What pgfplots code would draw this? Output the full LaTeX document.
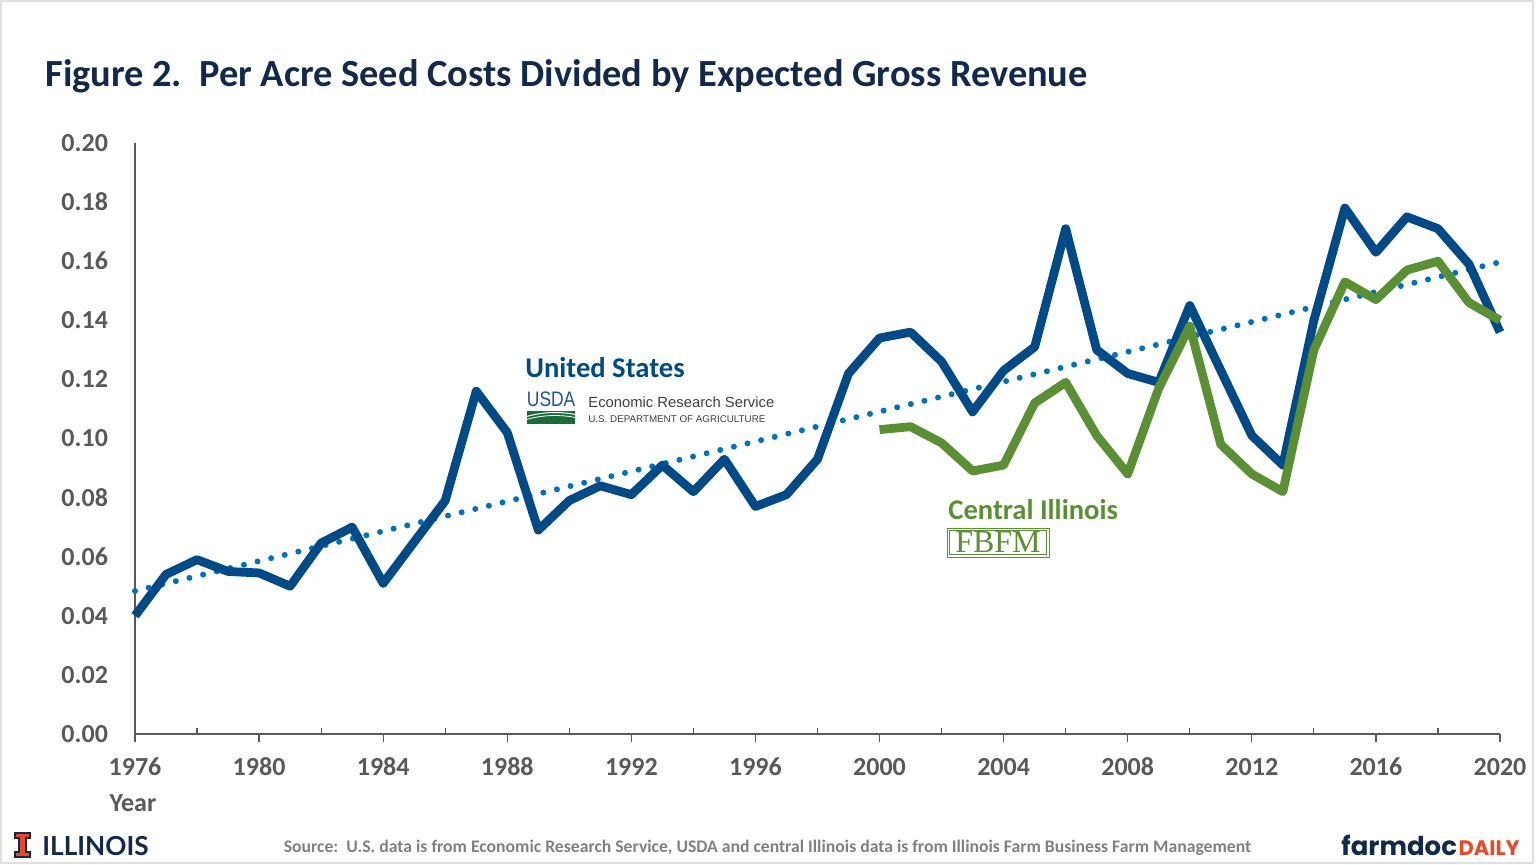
\documentclass[border=0pt]{standalone}
\usepackage{fontspec}
\setmainfont{Carlito}
\newfontfamily\arialf{Liberation Sans}
\newfontfamily\serifb{Liberation Serif}
\newfontfamily\popf{Poppins}
\newfontfamily\latof{Lato}
\usepackage{pgfplots}
\pgfplotsset{compat=1.18}
\definecolor{navy}{HTML}{13294B}
\definecolor{usblue}{HTML}{004B87}
\definecolor{ilgreen}{HTML}{5B8F33}
\definecolor{trendblue}{HTML}{0070C0}
\definecolor{tickgray}{HTML}{595959}
\definecolor{srcgray}{HTML}{808080}
\definecolor{illorange}{HTML}{E84A27}
\definecolor{usdablue}{HTML}{205493}
\definecolor{usdagreen}{HTML}{1B6B3A}
\begin{document}
\begin{tikzpicture}[x=1pt,y=1pt]
\path (0,0) rectangle (768,432);
\draw[gray!25,line width=0.8pt] (0.6,0.6) rectangle (766.5,431.4);
% title
\node[anchor=base west,font=\fontsize{19.2}{22}\selectfont\bfseries,text=navy,inner sep=0] at (22.5,388.5) {Figure 2.\ \ Per Acre Seed Costs Divided by Expected Gross Revenue};
\begin{axis}[
  at={(67.5pt,65pt)}, anchor=south west,
  scale only axis, width=682.5pt, height=295.5pt,
  xmin=1976, xmax=2020, ymin=0, ymax=0.20,
  axis lines*=left,
  axis line style={tickgray, line width=0.6pt, -},
  xtick={1976,1980,...,2020},
  ytick={0,0.02,...,0.201},
  extra x ticks={1978,1982,...,2018},
  extra x tick labels={},
  extra x tick style={tick align=inside, major tick length=3pt},
  xtick style={tickgray, line width=0.6pt},
  ytick style={draw=none},
  tick align=outside,
  major tick length=4pt,
  x tick label style={/pgf/number format/1000 sep=, yshift=-4pt, text height=9pt, text depth=0pt},
  y tick label style={/pgf/number format/fixed, /pgf/number format/fixed zerofill, /pgf/number format/precision=2, xshift=-6pt},
  /pgf/number format/assume math mode=true,
  tick label style={font=\fontsize{13}{15}\selectfont\bfseries, text=tickgray},
  clip=false,
]
\addplot[trendblue, line width=3pt, line cap=round, dash pattern=on 0pt off 7pt] coordinates {(1976,0.0484) (2020,0.1597)};
\addplot[usblue, line width=4.4pt, line join=round] coordinates {
(1976,0.040) (1977,0.054) (1978,0.059) (1979,0.055) (1980,0.0545)
(1981,0.050) (1982,0.0646) (1983,0.070) (1984,0.051) (1985,0.065)
(1986,0.079) (1987,0.116) (1988,0.102) (1989,0.069) (1990,0.079)
(1991,0.084) (1992,0.081) (1993,0.091) (1994,0.082) (1995,0.093)
(1996,0.077) (1997,0.081) (1998,0.093) (1999,0.122) (2000,0.134)
(2001,0.136) (2002,0.126) (2003,0.109) (2004,0.123) (2005,0.131)
(2006,0.171) (2007,0.130) (2008,0.122) (2009,0.119) (2010,0.145)
(2011,0.123) (2012,0.101) (2013,0.091) (2014,0.140) (2015,0.178)
(2016,0.163) (2017,0.175) (2018,0.171) (2019,0.159) (2020,0.136)};
\addplot[ilgreen, line width=4.4pt, line join=round] coordinates {
(2000,0.103) (2001,0.104) (2002,0.0985) (2003,0.089) (2004,0.091)
(2005,0.112) (2006,0.119) (2007,0.101) (2008,0.088) (2009,0.117)
(2010,0.138) (2011,0.098) (2012,0.088) (2013,0.082) (2014,0.130)
(2015,0.153) (2016,0.147) (2017,0.157) (2018,0.160) (2019,0.146)
(2020,0.140)};
\end{axis}
% Year label
\node[font=\fontsize{13}{15}\selectfont\bfseries,text=tickgray] at (66.5,30.5) {Year};
% United States annotation
\node[anchor=base west,inner sep=0,font=\fontsize{14.3}{17}\selectfont\bfseries,text=usblue] at (262.5,243.5) {United States};
% USDA logo
\node[anchor=base west,inner sep=0,xscale=0.83,font=\arialf\fontsize{10.5}{11}\selectfont,text=usdablue] at (263.3,228.8) {USDA};
\fill[usdagreen] (263.5,220) rectangle (287.5,226.5);
\draw[white,line width=0.5pt] (263.5,223.8) .. controls (272,226.2) and (280,226.2) .. (287.5,224.8);
\draw[white,line width=0.4pt] (263.5,222.3) .. controls (272,224.7) and (280,224.7) .. (287.5,223.3);
\node[anchor=base west,inner sep=0,font=\arialf\fontsize{7.4}{9}\selectfont,text=black!75] at (294,228.5) {Economic Research Service};
\node[anchor=base west,inner sep=0,font=\arialf\fontsize{4.9}{6}\selectfont,text=black!75] at (294,221) {U.S. DEPARTMENT OF AGRICULTURE};
% Central Illinois annotation
\node[anchor=base west,inner sep=0,font=\fontsize{14.3}{17}\selectfont\bfseries,text=ilgreen] at (474,172.5) {Central Illinois};
\draw[ilgreen,line width=0.5pt] (473.5,153.5) rectangle (524.5,168);
\draw[ilgreen,line width=0.4pt] (474.8,154.8) rectangle (523.2,166.7);
\node[inner sep=0,font=\serifb\fontsize{16}{16}\selectfont,text=ilgreen] at (499,160.8) {FBFM};
% footer
\node[font=\fontsize{8.83}{10}\selectfont\bfseries,text=srcgray] at (383.75,8.3) {Source:\ \ U.S. data is from Economic Research Service, USDA and central Illinois data is from Illinois Farm Business Farm Management};
% Illinois logo
\filldraw[fill=illorange,draw=navy,line width=0.6pt] (7.5,15.5) -- (15,15.5) -- (15,13) -- (13,13) -- (13,6) -- (15,6) -- (15,3.5) -- (7.5,3.5) -- (7.5,6) -- (9.5,6) -- (9.5,13) -- (7.5,13) -- cycle;
\node[anchor=base west,inner sep=0,font=\latof\fontsize{13.1}{14}\selectfont\bfseries,text=navy] at (21,4.5) {ILLINOIS};
% farmdoc daily
\node[anchor=base west,inner sep=0,font=\popf\fontsize{13}{15}\selectfont\bfseries,text=navy] at (670.5,4.5) {farmdoc};
\node[anchor=base east,inner sep=0,font=\popf\fontsize{10.5}{11}\selectfont\bfseries,text=illorange] at (760,4.5) {DAILY};
\end{tikzpicture}
\end{document}
